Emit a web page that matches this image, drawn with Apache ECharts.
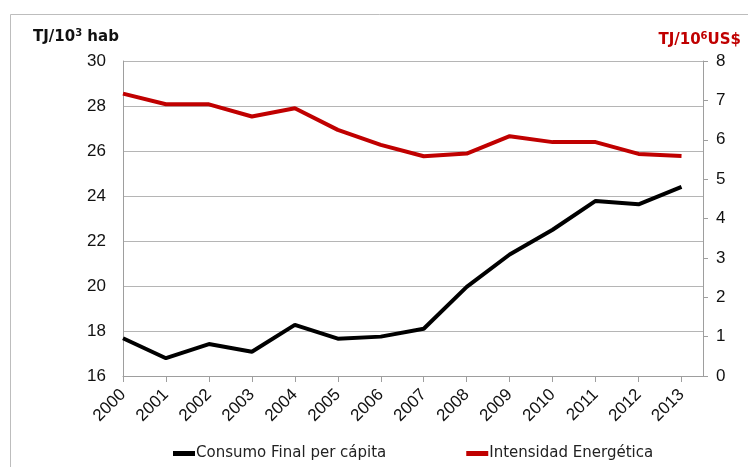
<!DOCTYPE html>
<html>
<head>
<meta charset="utf-8">
<script src="https://cdn.jsdelivr.net/npm/echarts@6/dist/echarts.min.js"></script>
<style>
  html, body { margin: 0; padding: 0; background: #fff; }
  #chart { width: 748px; height: 467px; }
</style>
</head>
<body>
<div id="chart"></div>
<script>
// years on the x axis
var years = [2000, 2001, 2002, 2003, 2004, 2005, 2006, 2007, 2008, 2009, 2010, 2011, 2012, 2013];
// TJ/10^3 hab (left axis)
var consumo = [17.68, 16.79, 17.42, 17.08, 18.27, 17.66, 17.75, 18.1, 19.96, 21.4, 22.5, 23.78, 23.63, 24.41];
// TJ/10^6 US$ (right axis)
var intensidad = [7.17, 6.9, 6.9, 6.59, 6.8, 6.25, 5.87, 5.58, 5.65, 6.09, 5.94, 5.94, 5.64, 5.59];

var nombreConsumo = 'Consumo Final per cápita';
var nombreIntensidad = 'Intensidad Energética';

function pares(vals) {
  var out = [];
  for (var i = 0; i < years.length; i++) {
    out.push([years[i], vals[i]]);
  }
  return out;
}

var chart = echarts.init(document.getElementById('chart'));

var option = {
  backgroundColor: '#fff',
  animation: false,
  textStyle: { fontFamily: 'DejaVu Sans' },
  graphic: [
    {
      type: 'rect',
      left: 8, top: 12,
      shape: { width: 760, height: 480 },
      style: { fill: 'none', stroke: '#bdbdbd', lineWidth: 1 }
    },
    {
      type: 'text',
      left: 33, top: 28,
      style: {
        rich: {
          a: { fontSize: 15, fontWeight: 'bold', fill: '#111', fontFamily: 'DejaVu Sans' },
          s: { fontSize: 10, fontWeight: 'bold', fill: '#111', verticalAlign: 'top', padding: [0, 0, 8, 0], fontFamily: 'DejaVu Sans' }
        },
        text: '{a|TJ/10}{s|3}{a| hab}'
      }
    },
    {
      type: 'text',
      right: 7, top: 31,
      style: {
        rich: {
          a: { fontSize: 15, fontWeight: 'bold', fill: '#c00000', fontFamily: 'DejaVu Sans' },
          s: { fontSize: 10, fontWeight: 'bold', fill: '#c00000', verticalAlign: 'top', padding: [0, 0, 8, 0], fontFamily: 'DejaVu Sans' }
        },
        text: '{a|TJ/10}{s|6}{a|US$}'
      }
    }
  ],
  grid: { left: 123, right: 45, top: 61, bottom: 91 },
  legend: {
    left: 168,
    bottom: 1,
    itemGap: 80,
    itemWidth: 22,
    itemHeight: 5,
    icon: 'rect',
    textStyle: { fontSize: 15, color: '#222', fontFamily: 'DejaVu Sans', padding: [0, 0, 0, -4] },
    data: [nombreConsumo, nombreIntensidad]
  },
  xAxis: {
    type: 'value',
    min: 2000,
    max: 2013.5,
    interval: 1,
    splitLine: { show: false },
    axisLine: { show: true, lineStyle: { color: '#9e9e9e', width: 1 } },
    axisTick: { show: true, length: 6, customValues: years, lineStyle: { color: '#9e9e9e' } },
    axisLabel: {
      rotate: 45,
      fontSize: 17,
      color: '#111',
      fontFamily: 'Liberation Sans',
      margin: 16,
      customValues: years,
      formatter: function (v) {
        return String(v);
      }
    }
  },
  yAxis: [
    {
      type: 'value',
      min: 16,
      max: 30,
      interval: 2,
      axisLine: { show: true, lineStyle: { color: '#9e9e9e' } },
      axisTick: { show: false },
      splitLine: { show: true, lineStyle: { color: '#b5b5b5', width: 1 } },
      axisLabel: { fontSize: 17, color: '#111', fontFamily: 'Liberation Sans', margin: 17 }
    },
    {
      type: 'value',
      min: 0,
      max: 8,
      interval: 1,
      position: 'right',
      axisLine: { show: true, lineStyle: { color: '#9e9e9e' } },
      axisTick: { show: true, length: 5, lineStyle: { color: '#9e9e9e' } },
      splitLine: { show: false },
      axisLabel: { fontSize: 17, color: '#111', fontFamily: 'Liberation Sans', margin: 13 }
    }
  ],
  series: [
    {
      name: nombreConsumo,
      type: 'line',
      yAxisIndex: 0,
      data: pares(consumo),
      showSymbol: false,
      color: '#000',
      lineStyle: { width: 4, color: '#000' }
    },
    {
      name: nombreIntensidad,
      type: 'line',
      yAxisIndex: 1,
      data: pares(intensidad),
      showSymbol: false,
      color: '#c00000',
      lineStyle: { width: 4, color: '#c00000' }
    }
  ]
};

chart.setOption(option);
</script>
</body>
</html>
